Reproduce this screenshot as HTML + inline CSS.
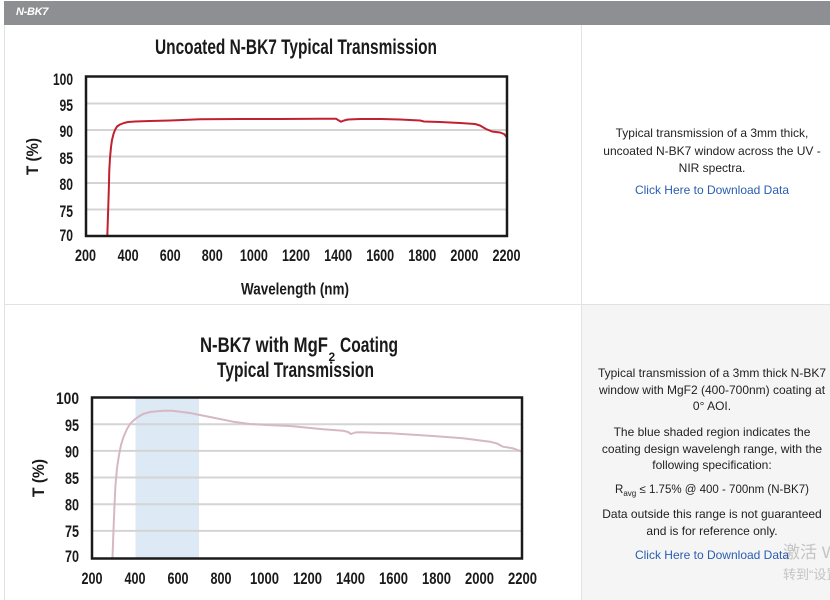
<!DOCTYPE html>
<html><head><meta charset="utf-8">
<style>
html,body{margin:0;padding:0;background:#fff;}
body{width:830px;height:600px;position:relative;overflow:hidden;font-family:"Liberation Sans",sans-serif;}
.hdr{position:absolute;left:4px;top:1px;width:826px;height:24px;background:#8e8f93;}
.hdr span{position:absolute;left:12px;top:5px;color:#fff;font:bold 11px "Liberation Sans Narrow","Liberation Sans",sans-serif;font-style:italic;letter-spacing:-0.3px;}
.vl{position:absolute;background:#e2e2e2;}
.panel{position:absolute;left:582px;width:248px;overflow:hidden;}
.t{position:absolute;width:320px;left:-30px;text-align:center;white-space:nowrap;font-size:12px;color:#222;line-height:14px;}
.lk{color:#2a5db0;}
.wm{position:absolute;color:#c4c4c4;font-family:"Liberation Sans","Noto Sans CJK SC",sans-serif;white-space:nowrap;}
svg{position:absolute;left:0;top:0;}
</style></head><body>
<div class="hdr"><span>N-BK7</span></div>
<div class="vl" style="left:4px;top:25px;width:1px;height:575px;"></div>
<div class="vl" style="left:581px;top:25px;width:1px;height:575px;"></div>
<div class="vl" style="left:4px;top:304px;width:826px;height:1px;"></div>

<svg width="830" height="600" viewBox="0 0 830 600" xmlns="http://www.w3.org/2000/svg">
<g font-family="'Liberation Sans Narrow','Liberation Sans',sans-serif" font-weight="bold" fill="#1a1a1a">
<!-- Chart 1 -->
<text x="155" y="54" font-size="21" textLength="282" lengthAdjust="spacingAndGlyphs">Uncoated N-BK7 Typical Transmission</text>
<g stroke="#d4d4d4" stroke-width="2">
<line x1="86" y1="103.5" x2="507" y2="103.5"/>
<line x1="86" y1="130" x2="507" y2="130"/>
<line x1="86" y1="156.5" x2="507" y2="156.5"/>
<line x1="86" y1="183" x2="507" y2="183"/>
<line x1="86" y1="209.5" x2="507" y2="209.5"/>
</g>
<polyline fill="none" stroke="#c1202f" stroke-width="2" stroke-linejoin="round" points="107.3,236 108,215 108.8,190 109.3,170 110,158 111,147 112,140 113.5,134 115,130 117,126.5 120,124.5 124,123 128,122 135,121.5 150,121 170,120.5 200,119.3 240,119 280,119 320,118.7 336,118.7 338,120 341,121.7 344,120.5 348,119.5 360,119 380,119 400,119.5 420,120.5 424,121.5 440,122 460,123 475,124 480,125.5 486,129 492,131.5 500,132.5 504,134 507,137.5"/>
<rect x="86" y="76.5" width="421" height="159.5" fill="none" stroke="#1a1a1a" stroke-width="2.5"/>
<g font-size="17" text-anchor="end">
<text x="73" y="85" textLength="20" lengthAdjust="spacingAndGlyphs">100</text>
<text x="73" y="111" textLength="13.5" lengthAdjust="spacingAndGlyphs">95</text>
<text x="73" y="137" textLength="13.5" lengthAdjust="spacingAndGlyphs">90</text>
<text x="73" y="164" textLength="13.5" lengthAdjust="spacingAndGlyphs">85</text>
<text x="73" y="190" textLength="13.5" lengthAdjust="spacingAndGlyphs">80</text>
<text x="73" y="217" textLength="13.5" lengthAdjust="spacingAndGlyphs">75</text>
<text x="73" y="241" textLength="13.5" lengthAdjust="spacingAndGlyphs">70</text>
</g>
<g font-size="17">
<text x="75" y="261" textLength="21" lengthAdjust="spacingAndGlyphs">200</text>
<text x="117.6" y="261" textLength="21" lengthAdjust="spacingAndGlyphs">400</text>
<text x="159.7" y="261" textLength="21" lengthAdjust="spacingAndGlyphs">600</text>
<text x="201.8" y="261" textLength="21" lengthAdjust="spacingAndGlyphs">800</text>
<text x="239.9" y="261" textLength="28" lengthAdjust="spacingAndGlyphs">1000</text>
<text x="282" y="261" textLength="28" lengthAdjust="spacingAndGlyphs">1200</text>
<text x="324.1" y="261" textLength="28" lengthAdjust="spacingAndGlyphs">1400</text>
<text x="366.2" y="261" textLength="28" lengthAdjust="spacingAndGlyphs">1600</text>
<text x="408.3" y="261" textLength="28" lengthAdjust="spacingAndGlyphs">1800</text>
<text x="450.4" y="261" textLength="28" lengthAdjust="spacingAndGlyphs">2000</text>
<text x="492.5" y="261" textLength="28" lengthAdjust="spacingAndGlyphs">2200</text>
</g>
<text x="241" y="294.5" font-size="17" textLength="108" lengthAdjust="spacingAndGlyphs">Wavelength (nm)</text>
<text transform="translate(38,175) rotate(-90)" font-size="17" textLength="37" lengthAdjust="spacingAndGlyphs">T (%)</text>

<!-- Chart 2 -->
<text x="200" y="352" font-size="21" textLength="128" lengthAdjust="spacingAndGlyphs">N-BK7 with MgF</text>
<text x="328.5" y="361" font-size="12">2</text>
<text x="340" y="352" font-size="21" textLength="58" lengthAdjust="spacingAndGlyphs">Coating</text>
<text x="217" y="377" font-size="21" textLength="157" lengthAdjust="spacingAndGlyphs">Typical Transmission</text>
<rect x="135.5" y="398" width="63.5" height="160" fill="#dde9f5"/>
<g stroke="#d4d4d4" stroke-width="2">
<line x1="92" y1="424.2" x2="522" y2="424.2"/>
<line x1="92" y1="450.9" x2="522" y2="450.9"/>
<line x1="92" y1="477.5" x2="522" y2="477.5"/>
<line x1="92" y1="504.2" x2="522" y2="504.2"/>
<line x1="92" y1="530.9" x2="522" y2="530.9"/>
</g>
<polyline fill="none" stroke="#d5b8c3" stroke-width="2" stroke-linejoin="round" points="112.5,558 113.5,530 114.5,505 115.5,485 117,468 119,455 121,445 123.5,437 127,429 130,424 134,420 138,417 143,414 150,412 163,410.7 172,410.7 180,411.7 190,413 200,415 215,418 233,421.7 250,424 267,425 290,426 323,429.3 343,430.7 348,432 351,434 355,432.5 360,432.3 390,433.3 433,436 463,438.3 490,441.7 497,443.5 503,446.7 513,448.3 522,451.7"/>
<rect x="92" y="397.5" width="430" height="161" fill="none" stroke="#1a1a1a" stroke-width="2.5"/>
<g font-size="17" text-anchor="end">
<text x="79" y="404" textLength="23" lengthAdjust="spacingAndGlyphs">100</text>
<text x="79" y="431" textLength="14" lengthAdjust="spacingAndGlyphs">95</text>
<text x="79" y="457.5" textLength="14" lengthAdjust="spacingAndGlyphs">90</text>
<text x="79" y="484" textLength="14" lengthAdjust="spacingAndGlyphs">85</text>
<text x="79" y="510.5" textLength="14" lengthAdjust="spacingAndGlyphs">80</text>
<text x="79" y="537" textLength="14" lengthAdjust="spacingAndGlyphs">75</text>
<text x="79" y="562" textLength="14" lengthAdjust="spacingAndGlyphs">70</text>
</g>
<g font-size="17">
<text x="81.5" y="584" textLength="21" lengthAdjust="spacingAndGlyphs">200</text>
<text x="124.5" y="584" textLength="21" lengthAdjust="spacingAndGlyphs">400</text>
<text x="167.5" y="584" textLength="21" lengthAdjust="spacingAndGlyphs">600</text>
<text x="210.5" y="584" textLength="21" lengthAdjust="spacingAndGlyphs">800</text>
<text x="250" y="584" textLength="29" lengthAdjust="spacingAndGlyphs">1000</text>
<text x="293" y="584" textLength="29" lengthAdjust="spacingAndGlyphs">1200</text>
<text x="336" y="584" textLength="29" lengthAdjust="spacingAndGlyphs">1400</text>
<text x="379" y="584" textLength="29" lengthAdjust="spacingAndGlyphs">1600</text>
<text x="422" y="584" textLength="29" lengthAdjust="spacingAndGlyphs">1800</text>
<text x="465" y="584" textLength="29" lengthAdjust="spacingAndGlyphs">2000</text>
<text x="508" y="584" textLength="29" lengthAdjust="spacingAndGlyphs">2200</text>
</g>
<text transform="translate(44,497) rotate(-90)" font-size="17" textLength="38" lengthAdjust="spacingAndGlyphs">T (%)</text>
</g>
</svg>

<!-- Top right panel -->
<div class="panel" style="top:25px;height:279px;">
<div class="t" style="top:101px;">Typical transmission of a 3mm thick,</div>
<div class="t" style="top:119px;">uncoated N-BK7 window across the UV -</div>
<div class="t" style="top:136px;">NIR spectra.</div>
<div class="t lk" style="top:158px;">Click Here to Download Data</div>
</div>

<!-- Bottom right panel -->
<div class="panel" style="top:305px;height:295px;background:#f5f5f5;">
<div class="wm" style="left:201px;top:233px;font-size:17px;">激活 Windows</div>
<div class="wm" style="left:201px;top:259px;font-size:13px;">转到“设置”</div>
<div class="t" style="top:61px;">Typical transmission of a 3mm thick N-BK7</div>
<div class="t" style="top:78px;">window with MgF2 (400-700nm) coating at</div>
<div class="t" style="top:94px;">0° AOI.</div>
<div class="t" style="top:120px;">The blue shaded region indicates the</div>
<div class="t" style="top:137px;">coating design wavelengh range, with the</div>
<div class="t" style="top:153px;">following specification:</div>
<div class="t" style="top:178px;font-size:11.5px;">R<sub style="font-size:8px;vertical-align:-3px;">avg</sub> ≤ 1.75% @ 400 - 700nm (N-BK7)</div>
<div class="t" style="top:202px;">Data outside this range is not guaranteed</div>
<div class="t" style="top:219px;">and is for reference only.</div>
<div class="t lk" style="top:243px;">Click Here to Download Data</div>
</div>
</body></html>
